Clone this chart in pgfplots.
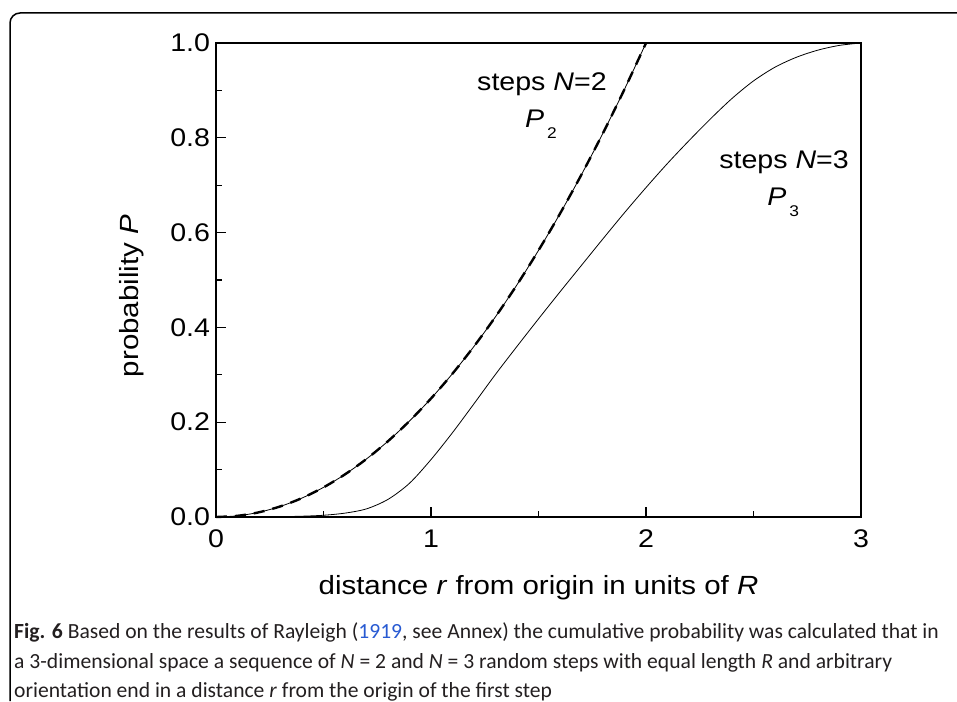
\documentclass[border=0pt]{standalone}
\usepackage{pgfplots}
\pgfplotsset{compat=1.18}
\usepackage{fontspec}
\setmainfont{Liberation Sans}[FakeStretch=1.12]
\newfontfamily\capfont{Carlito}
\definecolor{linkblue}{RGB}{40,90,210}
\definecolor{captext}{RGB}{35,31,32}

\pgfplotstableread{
r p
0.0 0.0
0.1 0.0025
0.2 0.01
0.3 0.0225
0.4 0.04
0.5 0.0625
0.6 0.09
0.7 0.1225
0.8 0.16
0.9 0.2025
1.0 0.25
1.1 0.3025
1.2 0.36
1.3 0.4225
1.4 0.49
1.5 0.5625
1.6 0.64
1.7 0.7225
1.8 0.81
1.9 0.9025
2.0 1.0
}\ptwo

\pgfplotstableread{
r p
0.0 0.0
0.1 0.0
0.2 0.0002
0.3 0.0007
0.4 0.0017
0.5 0.0037
0.6 0.0082
0.7 0.0172
0.8 0.0372
0.9 0.0712
1.0 0.1212
1.1 0.178
1.2 0.239
1.3 0.301
1.4 0.360
1.5 0.418
1.6 0.475
1.7 0.531
1.8 0.587
1.9 0.642
2.0 0.695
2.1 0.746
2.2 0.794
2.3 0.840
2.4 0.883
2.5 0.920
2.6 0.949
2.7 0.970
2.8 0.985
2.9 0.995
3.0 1.000
}\pthree

\begin{document}
\begin{tikzpicture}[x=1pt,y=1pt]
\path[use as bounding box] (0,0) rectangle (957,-701);
\draw[line width=1.5pt, rounded corners=10pt] (957,-13) -- (10,-13) -- (10,-701);
\begin{axis}[
  at={(216pt,-517pt)}, anchor=south west,
  scale only axis, width=645pt, height=474pt,
  xmin=0, xmax=3, ymin=0, ymax=1,
  xtick={0,1,2,3}, ytick={0,0.2,0.4,0.6,0.8,1.0},
  minor x tick num=1, minor y tick num=1,
  tick pos=left, tick align=inside,
  major tick length=10pt, minor tick length=6pt,
  axis line style={line width=1.5pt},
  every tick/.style={line width=1.2pt, black},
  tick label style={font=\fontsize{25.5}{30}\selectfont},
  label style={font=\fontsize{26.3}{30}\selectfont},
  /pgf/number format/assume math mode=true,
  yticklabel style={/pgf/number format/.cd, fixed, fixed zerofill, precision=1, /tikz/.cd, xshift=-2.5pt},
  xticklabel style={/pgf/number format/.cd, fixed, precision=0, /tikz/.cd, yshift=-9pt},
  xlabel={distance \textit{r} from origin in units of \textit{R}},
  ylabel={probability \textit{P}},
  xlabel style={at={(axis description cs:0.5,0)}, anchor=center, yshift=-71pt},
  ylabel style={at={(axis description cs:-0.130,0.466)}, anchor=center},
  clip=false,
]
\addplot[black, line width=0.8pt, smooth] table[x=r, y=p] {\ptwo};
\addplot[black, line width=2.4pt, dash pattern=on 11pt off 8pt, smooth] table[x=r, y=p] {\ptwo};
\addplot[black, line width=0.8pt, smooth] table[x=r, y=p] {\pthree};

\node[anchor=base, font=\fontsize{25.5}{30}\selectfont] at (axis cs:1.516,0.899) {steps \textit{N}=2};
\node[anchor=base west, font=\fontsize{25.5}{30}\selectfont, inner sep=0pt] at (axis cs:1.437,0.822) {\textit{P}\kern3pt\raisebox{-11pt}{\fontsize{15.5}{18}\selectfont 2}};
\node[anchor=base, font=\fontsize{25.5}{30}\selectfont] at (axis cs:2.642,0.736) {steps \textit{N}=3};
\node[anchor=base west, font=\fontsize{25.5}{30}\selectfont, inner sep=0pt] at (axis cs:2.563,0.658) {\textit{P}\kern3pt\raisebox{-11pt}{\fontsize{15.5}{18}\selectfont 3}};
\end{axis}

\begin{scope}[every node/.style={anchor=base west, inner sep=0pt, font=\capfont\fontsize{21.6}{25}\selectfont, text=captext}]
\node at (14,-638) {\textbf{Fig. 6} Based on the results of Rayleigh (\textcolor{linkblue}{1919}, see Annex) the cumulative probability was calculated that in};
\node at (14,-668) {a 3-dimensional space a sequence of \textit{N} = 2 and \textit{N} = 3 random steps with equal length \textit{R} and arbitrary};
\node at (14,-697) {orientation end in a distance \textit{r} from the origin of the first step};
\end{scope}
\end{tikzpicture}
\end{document}
